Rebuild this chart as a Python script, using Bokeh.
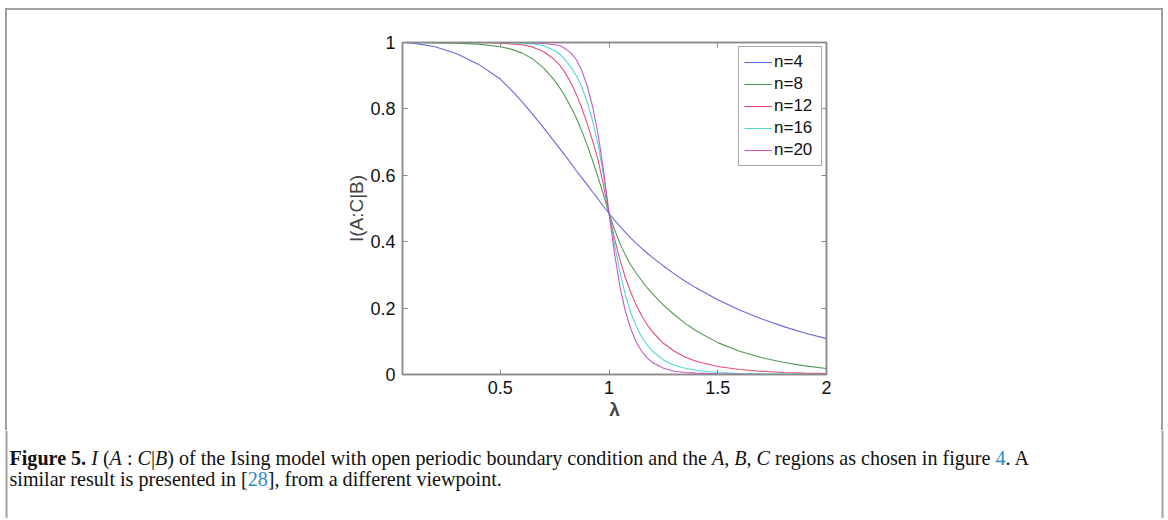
import subprocess
from bokeh.plotting import figure
from bokeh.layouts import column
from bokeh.models import Range1d, FixedTicker, LinearAxis, Legend, LegendItem
from bokeh.core.properties import value
from bokeh.embed import file_html
from bokeh.resources import INLINE

# ---------------- data ----------------
lam = [0.05, 0.1, 0.2, 0.3, 0.4, 0.5, 0.55, 0.6, 0.65, 0.7, 0.75, 0.775, 0.8, 0.825,
       0.85, 0.875, 0.9, 0.925, 0.95, 0.975, 1.0, 1.025, 1.05, 1.075, 1.1, 1.125,
       1.15, 1.175, 1.2, 1.25, 1.3, 1.35, 1.4, 1.5, 1.6, 1.7, 1.8, 1.9, 2.0]

i_n4 = [1.000, 0.998, 0.987, 0.966, 0.934, 0.890, 0.857, 0.821, 0.783, 0.742, 0.700,
        0.679, 0.658, 0.636, 0.613, 0.592, 0.571, 0.549, 0.528, 0.506, 0.485, 0.465,
        0.446, 0.428, 0.411, 0.395, 0.380, 0.366, 0.352, 0.327, 0.303, 0.281, 0.261,
        0.225, 0.194, 0.168, 0.145, 0.125, 0.108]

i_n8 = [1.000, 1.000, 0.999, 0.998, 0.995, 0.987, 0.980, 0.968, 0.950, 0.923, 0.885,
        0.862, 0.835, 0.805, 0.772, 0.733, 0.690, 0.643, 0.593, 0.540, 0.485, 0.437,
        0.395, 0.360, 0.330, 0.305, 0.283, 0.262, 0.243, 0.209, 0.180, 0.154, 0.132,
        0.096, 0.070, 0.051, 0.037, 0.026, 0.018]

i_n12 = [1.000, 1.000, 1.000, 1.000, 1.000, 0.998, 0.996, 0.993, 0.986, 0.972, 0.948,
         0.930, 0.907, 0.878, 0.843, 0.802, 0.755, 0.702, 0.645, 0.567, 0.485, 0.410,
         0.345, 0.292, 0.247, 0.209, 0.177, 0.150, 0.128, 0.094, 0.070, 0.053, 0.040,
         0.024, 0.015, 0.010, 0.006, 0.004, 0.003]

i_n16 = [1.000, 1.000, 1.000, 1.000, 1.000, 1.000, 0.999, 0.998, 0.996, 0.990, 0.976,
         0.964, 0.947, 0.925, 0.900, 0.866, 0.820, 0.762, 0.690, 0.597, 0.485, 0.392,
         0.308, 0.240, 0.186, 0.145, 0.113, 0.089, 0.070, 0.044, 0.028, 0.019, 0.013,
         0.006, 0.003, 0.002, 0.001, 0.001, 0.000]

i_n20 = [1.000, 1.000, 1.000, 1.000, 1.000, 1.000, 1.000, 1.000, 0.999, 0.997, 0.993,
         0.990, 0.981, 0.968, 0.948, 0.915, 0.868, 0.805, 0.722, 0.612, 0.485, 0.365,
         0.265, 0.190, 0.137, 0.098, 0.070, 0.050, 0.036, 0.019, 0.010, 0.006, 0.004,
         0.002, 0.001, 0.000, 0.000, 0.000, 0.000]

series_labels = ["n=4", "n=8", "n=12", "n=16", "n=20"]
series_values = [i_n4, i_n8, i_n12, i_n16, i_n20]
series_colors = ["#5656de", "#3f8f3f", "#e63a66", "#45d0d0", "#bd45c4"]

x_ticks = [0.5, 1.0, 1.5, 2.0]
x_tick_labels = ["0.5", "1", "1.5", "2"]
y_ticks = [0.0, 0.2, 0.4, 0.6, 0.8, 1.0]
y_tick_labels = ["0", "0.2", "0.4", "0.6", "0.8", "1"]

x_label = "λ"
y_label = "I(A:C|B)"

BLACK = "#111111"
LINK = "#2a8ac4"
caption_line1 = [("Figure 5.", "bold", BLACK), (" ", "normal", BLACK),
                 ("I", "italic", BLACK), (" (", "normal", BLACK),
                 ("A", "italic", BLACK), (" : ", "normal", BLACK),
                 ("C", "italic", BLACK), ("|", "normal", BLACK),
                 ("B", "italic", BLACK), (")", "normal", BLACK),
                 (" of the Ising model with open periodic boundary condition and the ", "normal", BLACK),
                 ("A", "italic", BLACK), (", ", "normal", BLACK),
                 ("B", "italic", BLACK), (", ", "normal", BLACK),
                 ("C", "italic", BLACK),
                 (" regions as chosen in figure ", "normal", BLACK),
                 ("4", "normal", LINK), (". A", "normal", BLACK)]
caption_line2 = [("similar result is presented in [", "normal", BLACK),
                 ("28", "normal", LINK),
                 ("], from a different viewpoint.", "normal", BLACK)]

# ---------------- layout constants (page has no margin) ----------------
TOTAL_W = 1166
PLOT_H = 430
CAP_H = 88
FL, FT, FW, FH = 402, 42, 424, 332          # frame inside the plot figure
AX_GRAY = "#8a8a8a"
BORDER = "#a0a0a0"
SANS = "Liberation Sans"
SERIF = "Liberation Serif"

# ---------------- main plot ----------------
grad = f"linear-gradient({BORDER},{BORDER})"
p = figure(width=TOTAL_W, height=PLOT_H, output_backend="svg", toolbar_location=None,
           x_range=Range1d(0.05, 2.0), y_range=Range1d(0.0, 1.0),
           min_border_left=FL, min_border_right=TOTAL_W - FL - FW,
           min_border_top=FT, min_border_bottom=PLOT_H - FT - FH,
           frame_align=False,
           background_fill_color="white", border_fill_color=None,
           styles={"background-color": "white",
                   "background-image": f"{grad}, {grad}, {grad}",
                   "background-position": "5px 8px, 5px 8px, 1161px 8px",
                   "background-size": f"1158px 2px, 2px {PLOT_H}px, 2px {PLOT_H}px",
                   "background-repeat": "no-repeat"})
p.grid.visible = False
p.outline_line_color = AX_GRAY
p.outline_line_width = 1.5

items = []
for lab, vals, col in zip(series_labels, series_values, series_colors):
    r = p.line(lam, vals, line_color=col, line_width=1.1, line_alpha=0.9)
    items.append(LegendItem(label=lab, renderers=[r]))


def style_axis(ax, ticks, overrides, show_labels):
    ax.ticker = FixedTicker(ticks=ticks)
    ax.major_label_overrides = overrides
    ax.axis_line_color = AX_GRAY
    ax.axis_line_width = 1.5
    ax.major_tick_line_color = AX_GRAY
    ax.major_tick_in = 5
    ax.major_tick_out = 0
    ax.minor_tick_line_color = None
    ax.major_label_text_font = SANS
    ax.major_label_text_font_size = "18px"
    ax.major_label_text_color = "#111111" if show_labels else None


xo = {t: s for t, s in zip(x_ticks, x_tick_labels)}
yo = {t: s for t, s in zip(y_ticks, y_tick_labels)}

style_axis(p.xaxis[0], x_ticks, xo, True)
style_axis(p.yaxis[0], y_ticks, yo, True)
p.xaxis[0].major_label_standoff = 6
p.yaxis[0].major_label_standoff = 7
p.xaxis[0].axis_label = x_label
p.xaxis[0].axis_label_text_font = SANS
p.xaxis[0].axis_label_text_font_style = "bold"
p.xaxis[0].axis_label_text_font_size = "19px"
p.xaxis[0].axis_label_standoff = 2
p.yaxis[0].axis_label = y_label
p.yaxis[0].axis_label_text_font = SANS
p.yaxis[0].axis_label_text_font_style = "normal"
p.yaxis[0].axis_label_text_font_size = "19px"
p.yaxis[0].axis_label_standoff = 0

top_ax = LinearAxis()
style_axis(top_ax, x_ticks, xo, False)
p.add_layout(top_ax, "above")
right_ax = LinearAxis()
style_axis(right_ax, y_ticks, yo, False)
p.add_layout(right_ax, "right")

legend = Legend(items=items, location="top_right", margin=4, padding=5, spacing=2,
                glyph_width=28, glyph_height=20, label_height=20, label_width=42,
                label_standoff=2, label_text_font=SANS, label_text_font_size="17px",
                label_text_color="#111111", border_line_color="#555555",
                border_line_width=1, background_fill_color="white",
                background_fill_alpha=1.0)
p.add_layout(legend)

# ---------------- caption ----------------
cap = figure(width=TOTAL_W, height=CAP_H, output_backend="svg", toolbar_location=None,
             x_range=Range1d(0, TOTAL_W), y_range=Range1d(CAP_H, 0),
             x_axis_location=None, y_axis_location=None, min_border=0,
             frame_align=False,
             background_fill_color="white", border_fill_color="white")
cap.grid.visible = False
cap.outline_line_color = None
cap.quad(left=[5, 1161], right=[7, 1163], top=[0, 0], bottom=[CAP_H, CAP_H],
         fill_color=BORDER, line_color=None)

_font_cache = {}


def _font_path(style):
    pat = {"bold": SERIF + ":style=Bold", "italic": SERIF + ":style=Italic",
           "normal": SERIF + ":style=Regular"}[style]
    try:
        out = subprocess.run(["fc-match", "-f", "%{file}", pat], capture_output=True,
                             text=True, timeout=5).stdout.strip()
        return out or None
    except Exception:
        return None


def text_width(txt, style, size):
    key = (style, size)
    if key not in _font_cache:
        f = None
        try:
            from PIL import ImageFont
            path = _font_path(style)
            if path:
                f = ImageFont.truetype(path, size)
        except Exception:
            f = None
        _font_cache[key] = f
    f = _font_cache[key]
    if f is None:
        return len(txt) * 0.44 * size
    return f.getlength(txt)


CAP_X0 = 9
CAP_TARGET = 1019
ref = sum(text_width(t, s, 100) for t, s, _ in caption_line1)
cap_size = max(14.0, min(21.0, 100.0 * CAP_TARGET / ref)) if ref > 0 else 19.0
cap_size = round(cap_size, 1)

groups = {}


def layout_caption_line(pieces, baseline):
    x = CAP_X0
    for txt, style, col in pieces:
        stripped = txt.strip()
        if stripped:
            lead = len(txt) - len(txt.lstrip())
            lead_w = text_width(" " * lead, style, cap_size) if lead else 0.0
            g = groups.setdefault((style, col), {"x": [], "y": [], "text": []})
            g["x"].append(x + lead_w)
            g["y"].append(baseline)
            g["text"].append(stripped)
        x += text_width(txt, style, cap_size)


layout_caption_line(caption_line1, 27)
layout_caption_line(caption_line2, 48)

for (style, col), g in groups.items():
    cap.text(x=g["x"], y=g["y"], text=g["text"], text_font=value(SERIF),
             text_font_style=value(style), text_font_size=value(f"{cap_size}px"),
             text_color=col, text_align="left", text_baseline="alphabetic")

layout = column(p, cap)
open("out.html", "w").write(file_html(layout, INLINE))
